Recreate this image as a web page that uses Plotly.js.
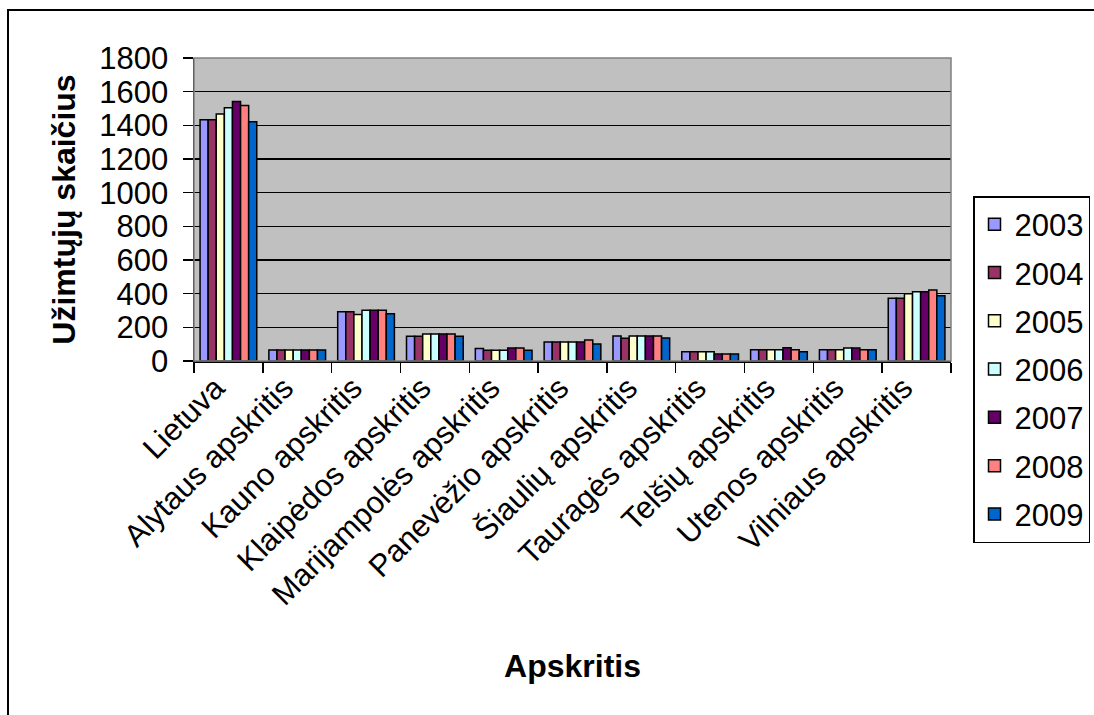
<!DOCTYPE html>
<html><head><meta charset="utf-8">
<script src="https://cdn.plot.ly/plotly-3.0.1.min.js"></script>
<style>html,body{margin:0;padding:0;background:#fff;overflow:hidden;}#chart{width:1094px;height:715px;}</style>
</head><body><div id="chart"></div>
<script>
const categories = ["Lietuva","Alytaus apskritis","Kauno apskritis","Klaipėdos apskritis","Marijampolės apskritis","Panevėžio apskritis","Šiaulių apskritis","Tauragės apskritis","Telšių apskritis","Utenos apskritis","Vilniaus apskritis"];
const years = ["2003","2004","2005","2006","2007","2008","2009"];
const colors = ["#9999FF","#993366","#FFFFCC","#CCFFFF","#660066","#FF8080","#0066CC"];
const v2003 = [1433, 66, 292, 147, 75, 113, 149, 55, 67, 67, 373];
const v2004 = [1433, 66, 292, 147, 64, 113, 135, 55, 67, 67, 373];
const v2005 = [1468, 66, 276, 161, 64, 113, 149, 55, 67, 67, 399];
const v2006 = [1504, 66, 302, 161, 64, 113, 148, 55, 67, 77, 411];
const v2007 = [1542, 66, 302, 161, 77, 113, 149, 42, 79, 77, 411];
const v2008 = [1518, 66, 302, 161, 77, 125, 149, 42, 67, 67, 422];
const v2009 = [1421, 66, 280, 147, 64, 101, 137, 42, 55, 67, 387];
const series = [v2003, v2004, v2005, v2006, v2007, v2008, v2009];

const font = "Liberation Sans, Arial, sans-serif";
const traces = series.map((vals, i) => ({
  type: "bar", x: categories, y: vals, name: years[i], legendgroup: years[i],
  marker: {color: colors[i], line: {color: "#000", width: 1.5}},
  hoverinfo: "x+y+name"
}));

const L = 194, R = 951, T = 58, B = 361, W = 1094, H = 715;
const pw = R - L, ph = B - T;
const px = v => (v - L) / pw;
const py = v => (B - v) / ph;

const layout = {
  width: W, height: H,
  margin: {l: L, r: W - R, t: T, b: H - B, pad: 0, autoexpand: false},
  paper_bgcolor: "#fff", plot_bgcolor: "#C0C0C0",
  font: {family: font, size: 31, color: "#000"},
  barmode: "group", bargap: 0.176, bargroupgap: 0,
  showlegend: true,
  legend: {x: px(973), y: py(196), xanchor: "left", yanchor: "top",
    bordercolor: "#000", borderwidth: 1.5, bgcolor: "#fff",
    font: {family: font, size: 31, color: "#000"}, tracegroupgap: 5,
    itemwidth: 30, maxheight: 600},
  xaxis: {type: "category", tickangle: -45, showline: true, linecolor: "#000", linewidth: 1.5,
    ticks: "outside", ticklen: 10, tickcolor: "#000", tickwidth: 1.5, tickson: "boundaries",
    showgrid: false, automargin: false, tickfont: {family: font, size: 31},
    ticklabelshift: -13, ticklabelstandoff: -5,
    title: {text: "<b>Apskritis</b>", font: {family: font, size: 32}, standoff: 43}},
  yaxis: {range: [0, 1800], dtick: 200, tick0: 0, showline: true, linecolor: "#000", linewidth: 1.5,
    ticks: "outside", ticklen: 10, tickcolor: "#000", tickwidth: 1.5,
    showgrid: true, gridcolor: "#000", gridwidth: 1.5, zeroline: false, automargin: false,
    tickfont: {family: font, size: 31}, ticklabelstandoff: 8,
    title: {text: "<b>Užimtųjų skaičius</b>", font: {family: font, size: 32}, standoff: 14}},
  shapes: [
    {type: "rect", xref: "paper", yref: "paper", x0: 0, x1: 1, y0: 0, y1: 1,
      line: {color: "#808080", width: 1.5}, layer: "above"},
    {type: "rect", xref: "paper", yref: "paper", x0: px(8), x1: px(1250), y0: py(10), y1: py(850),
      line: {color: "#000", width: 2}, layer: "above"}
  ]
};
Plotly.newPlot("chart", traces, layout, {displayModeBar: false, staticPlot: true});
</script></body></html>
